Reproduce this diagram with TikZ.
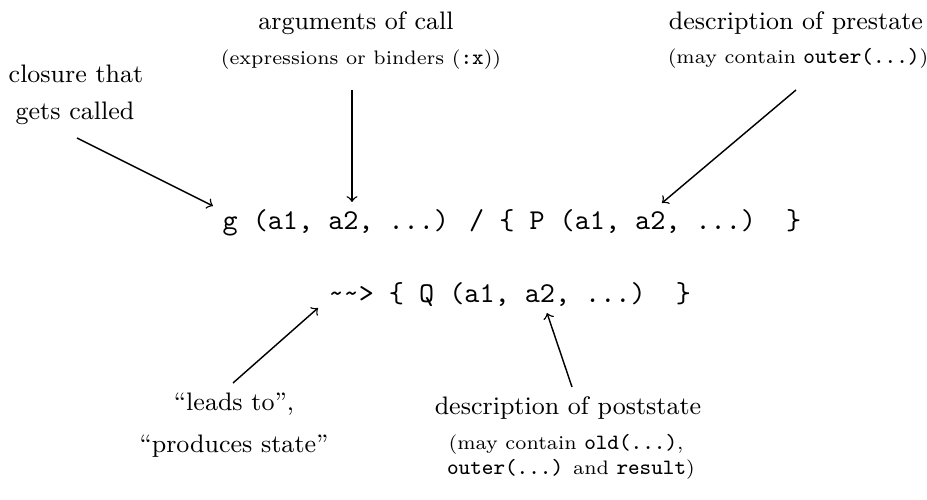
\documentclass[tikz,border=0pt]{standalone}
\usepackage{tikz}
\usetikzlibrary{positioning}

\newcommand\lblfont{\fontsize{8.8}{10}\selectfont}
\newcommand\notefont{\fontsize{6.8}{8}\selectfont}
\newcommand\cd[1]{{\fontsize{7.6}{8}\selectfont\ttfamily #1}}

\tikzset{
  labeltext/.style={inner sep=0pt, anchor=base, font=\lblfont},
  notetext/.style={inner sep=0pt, anchor=base, font=\notefont},
  codeline/.style={inner sep=0pt, anchor=base west, font=\ttfamily},
  pointer/.style={->, line width=0.5pt}
}

\begin{document}
\begin{tikzpicture}[x=0.012221cm, y=-0.012221cm]
\useasboundingbox (0,0) rectangle (927,500);
% The call and its pre/post states
\node[codeline] (call) at (222,230) {g (a1, a2, ...) / \{ P (a1, a2, ...)\ \ \}};
\node[codeline] (post) at (328,303) {\string~\string~> \{ Q (a1, a2, ...)\ \ \}};
% Points the arrows aim at
\coordinate (gTip) at (213,206);
\coordinate (argTip) at (352,202);
\coordinate (preTip) at (662,203);
\coordinate (leadTip) at (318,308);
\coordinate (postTip) at (547,313);
% Closure
\node[labeltext] (closeA) at (76,83) {closure that};
\node[labeltext] (closeB) at (75,120) {gets called};
\draw[pointer] ([shift={(2,18)}]closeB.base) -- (gTip);
% Arguments
\node[labeltext] (args) at (356,30) {arguments of call};
\node[notetext] (argsNote) at (361,65) {(expressions or binders (\cd{:x}))};
\draw[pointer] ([shift={(-9,25)}]argsNote.base) -- (argTip);
% Prestate
\node[labeltext] (pre) at (796,30) {description of prestate};
\node[notetext] (preNote) at (798,64) {(may contain \cd{outer(...)})};
\draw[pointer] ([shift={(-2,26)}]preNote.base) -- (preTip);
% Leads to
\node[labeltext] (leadA) at (234,411) {“leads to”,};
\node[labeltext] (leadB) at (234,453) {“produces state”};
\draw[pointer] ([shift={(-1,-28)}]leadA.base) -- (leadTip);
% Poststate
\node[labeltext] (postLbl) at (568,415) {description of poststate};
\node[notetext] (postNoteA) at (566,450) {(may contain \cd{old(...)},};
\node[notetext] (postNoteB) at (571,475) {\cd{outer(...)} and \cd{result})};
\draw[pointer] ([shift={(4,-28)}]postLbl.base) -- (postTip);
\end{tikzpicture}
\end{document}
